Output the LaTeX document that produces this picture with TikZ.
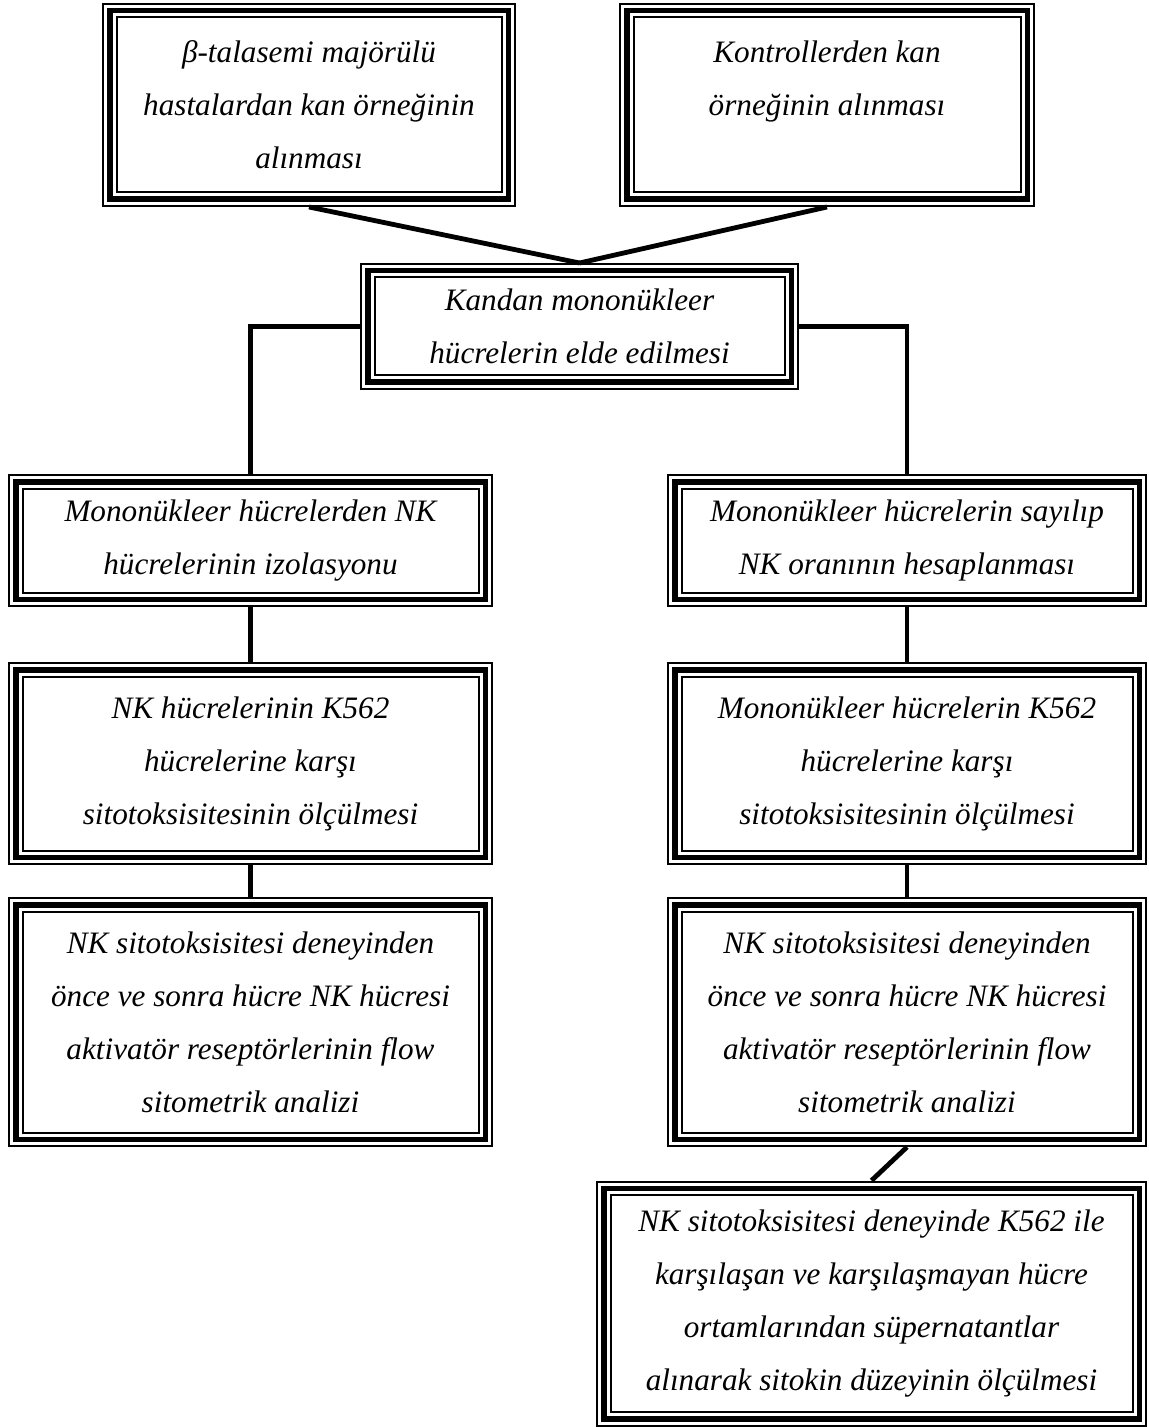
\documentclass[tikz,border=0pt]{standalone}
\usepackage{fontspec}
\setmainfont{Liberation Serif}
\usetikzlibrary{positioning}

\begin{document}
\begin{tikzpicture}[
    x=0.5pt, y=-0.5pt,
    node distance=16pt,
    panel/.style={rectangle, draw=black, line width=2.75pt, inner sep=0pt, outer sep=3.875pt, align=center,
        preaction={draw=black, line width=7.75pt},
        preaction={draw=white, line width=5.75pt},
        font=\itshape\fontsize{15.6pt}{26.5pt}\selectfont},
    link/.style={draw=black, line width=2.4pt}
]
\useasboundingbox (0,0) rectangle (1148,1427);

\node[panel, minimum width=199.25pt, minimum height=94.25pt] (hasta) at (309,105) {β-talasemi majörülü\\hastalardan kan örneğinin\\alınması};
\node[panel, minimum width=200.25pt, minimum height=94.25pt] (kontrol) at (827,105) {Kontrollerden kan\\örneğinin alınması\\\mbox{}};
\node[panel, minimum width=211.75pt, minimum height=55.75pt] (mnh) at (579.5,326.5) {Kandan mononükleer\\hücrelerin elde edilmesi};

\node[panel, minimum width=234.75pt, minimum height=58.75pt] (nkizol) at (250.5,540.5) {Mononükleer hücrelerden NK\\hücrelerinin izolasyonu};
\node[panel, minimum width=232.25pt, minimum height=58.75pt] (sayim) at (907,540.5) {Mononükleer hücrelerin sayılıp\\NK oranının hesaplanması};
\node[panel, minimum width=234.75pt, minimum height=93.75pt, below=27.5pt of nkizol] (nksito) {NK hücrelerinin K562\\hücrelerine karşı\\sitotoksisitesinin ölçülmesi};
\node[panel, minimum width=232.25pt, minimum height=93.75pt, below=27.5pt of sayim] (mnsito) {Mononükleer hücrelerin K562\\hücrelerine karşı\\sitotoksisitesinin ölçülmesi};
\node[panel, minimum width=234.75pt, minimum height=117.25pt, below=of nksito] (flowsol) {NK sitotoksisitesi deneyinden\\önce ve sonra hücre NK hücresi\\aktivatör reseptörlerinin flow\\sitometrik analizi};
\node[panel, minimum width=232.25pt, minimum height=117.25pt, below=of mnsito] (flowsag) {NK sitotoksisitesi deneyinden\\önce ve sonra hücre NK hücresi\\aktivatör reseptörlerinin flow\\sitometrik analizi};
\node[panel, minimum width=267.75pt, minimum height=115.25pt] (sitokin) at (871.5,1303.5) {NK sitotoksisitesi deneyinde K562 ile\\karşılaşan ve karşılaşmayan hücre\\ortamlarından süpernatantlar\\alınarak sitokin düzeyinin ölçülmesi};

\draw[link] (hasta.south) -- (mnh.north);
\draw[link] (kontrol.south) -- (mnh.north);
\draw[link] (mnh.west) -| (nkizol.north);
\draw[link] (mnh.east) -| (sayim.north);
\draw[link] (nkizol) -- (nksito);
\draw[link] (sayim) -- (mnsito);
\draw[link] (nksito) -- (flowsol);
\draw[link] (mnsito) -- (flowsag);
\draw[link] (flowsag.south) -- (sitokin.north);

\end{tikzpicture}
\end{document}
